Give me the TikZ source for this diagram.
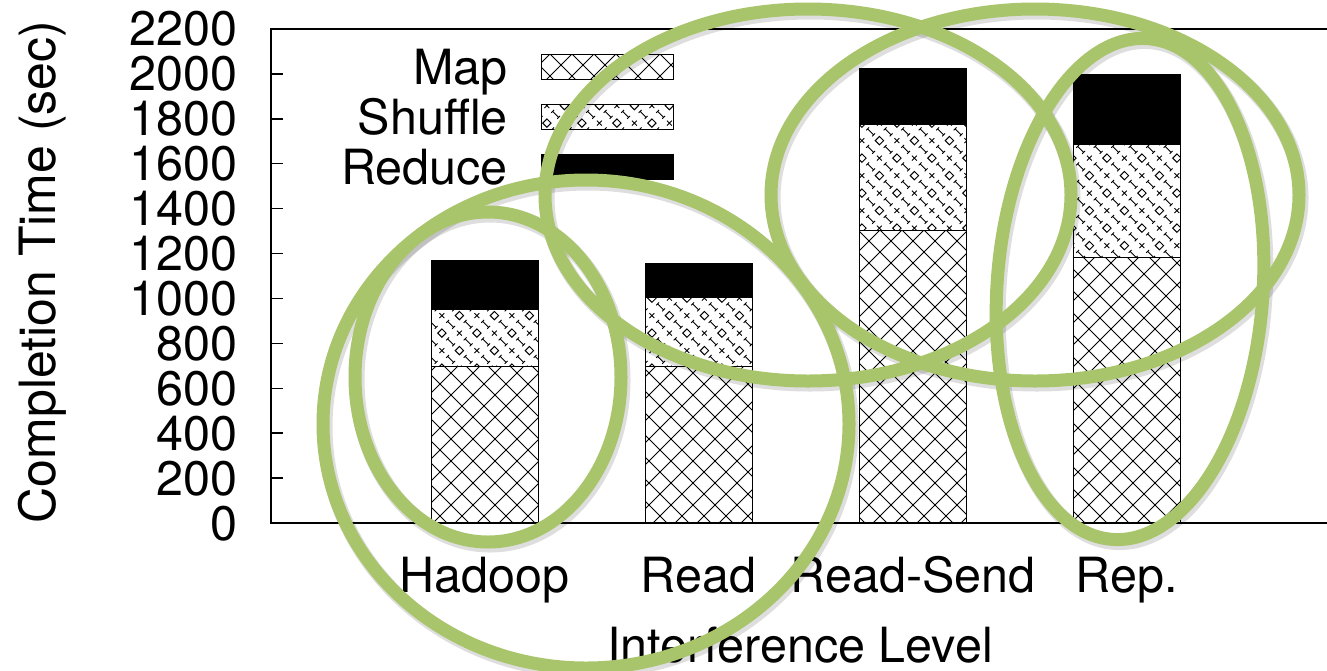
\documentclass[tikz,border=0pt]{standalone}
\usepackage{fontspec}
\setmainfont{TeX Gyre Heros}
\usetikzlibrary{patterns}

% --- fill patterns for the stacked bars ---------------------------------
\pgfdeclarepatternformonly{mapcross}{\pgfpoint{-1pt}{-1pt}}{\pgfpoint{23pt}{23pt}}{\pgfpoint{22pt}{22pt}}{%
  \pgfsetlinewidth{0.9pt}%
  \pgfpathmoveto{\pgfpoint{0pt}{0pt}}\pgfpathlineto{\pgfpoint{22pt}{22pt}}%
  \pgfpathmoveto{\pgfpoint{0pt}{22pt}}\pgfpathlineto{\pgfpoint{22pt}{0pt}}%
  \pgfusepath{stroke}}

\newcommand\shufDiamond[2]{%
  \pgfpathmoveto{\pgfpointadd{\pgfpoint{#1}{#2}}{\pgfpoint{-4.2pt}{0pt}}}%
  \pgfpathlineto{\pgfpointadd{\pgfpoint{#1}{#2}}{\pgfpoint{0pt}{4.2pt}}}%
  \pgfpathlineto{\pgfpointadd{\pgfpoint{#1}{#2}}{\pgfpoint{4.2pt}{0pt}}}%
  \pgfpathlineto{\pgfpointadd{\pgfpoint{#1}{#2}}{\pgfpoint{0pt}{-4.2pt}}}%
  \pgfpathclose}
\newcommand\shufCross[2]{%
  \pgfpathmoveto{\pgfpointadd{\pgfpoint{#1}{#2}}{\pgfpoint{-2.4pt}{-2.4pt}}}%
  \pgfpathlineto{\pgfpointadd{\pgfpoint{#1}{#2}}{\pgfpoint{2.4pt}{2.4pt}}}%
  \pgfpathmoveto{\pgfpointadd{\pgfpoint{#1}{#2}}{\pgfpoint{-2.4pt}{2.4pt}}}%
  \pgfpathlineto{\pgfpointadd{\pgfpoint{#1}{#2}}{\pgfpoint{2.4pt}{-2.4pt}}}}
\newcommand\shufBeam[2]{%
  \pgfpathmoveto{\pgfpointadd{\pgfpoint{#1}{#2}}{\pgfpoint{-3pt}{3pt}}}%
  \pgfpathlineto{\pgfpointadd{\pgfpoint{#1}{#2}}{\pgfpoint{3pt}{-3pt}}}%
  \pgfpathmoveto{\pgfpointadd{\pgfpoint{#1}{#2}}{\pgfpoint{-4.4pt}{1.6pt}}}%
  \pgfpathlineto{\pgfpointadd{\pgfpoint{#1}{#2}}{\pgfpoint{-1.6pt}{4.4pt}}}%
  \pgfpathmoveto{\pgfpointadd{\pgfpoint{#1}{#2}}{\pgfpoint{1.6pt}{-4.4pt}}}%
  \pgfpathlineto{\pgfpointadd{\pgfpoint{#1}{#2}}{\pgfpoint{4.4pt}{-1.6pt}}}}

\pgfdeclarepatternformonly{shufmix}{\pgfpoint{-1pt}{-1pt}}{\pgfpoint{36pt}{36pt}}{\pgfpoint{35pt}{35pt}}{%
  \pgfsetlinewidth{1pt}%
  \shufDiamond{4.375pt}{4.375pt}\shufDiamond{21.875pt}{21.875pt}%
  \shufCross{21.875pt}{4.375pt}\shufCross{4.375pt}{21.875pt}%
  \shufBeam{13.125pt}{13.125pt}\shufBeam{30.625pt}{30.625pt}%
  \shufBeam{13.125pt}{30.625pt}\shufBeam{30.625pt}{13.125pt}%
  \pgfusepath{stroke}}

\definecolor{ringgreen}{RGB}{169,197,107}

\begin{document}
\begin{tikzpicture}[x=1pt,y=-1pt,
  label/.style={font=\fontsize{48.5}{50}\selectfont, inner sep=0pt},
  axisline/.style={line width=2pt, line cap=rect},
  tickline/.style={line width=1.5pt},
  mapseg/.style={pattern=mapcross, pattern color=black, draw=black, line width=1pt},
  shufseg/.style={pattern=shufmix, pattern color=black, draw=black, line width=1pt},
  redseg/.style={fill=black, draw=black, line width=1pt},
  ring/.style={draw=ringgreen, line width=13pt},
  ringshadow/.style={draw=black, opacity=0.13, line width=15pt}]

\fill[white] (0,0) rectangle (1327,670);
\useasboundingbox (0,0) rectangle (1327,670);

% --- stacked bars -------------------------------------------------------
% Hadoop
\filldraw[mapseg]  (431,366) rectangle (538,523);
\filldraw[shufseg] (431,309) rectangle (538,366);
\filldraw[redseg]  (431,260) rectangle (538,309);
% Read
\filldraw[mapseg]  (645,366) rectangle (752,523);
\filldraw[shufseg] (645,297) rectangle (752,366);
\filldraw[redseg]  (645,263) rectangle (752,297);
% Read-Send
\filldraw[mapseg]  (859,230) rectangle (966,523);
\filldraw[shufseg] (859,124) rectangle (966,230);
\filldraw[redseg]  (859,68)  rectangle (966,124);
% Rep.
\filldraw[mapseg]  (1073,257) rectangle (1180,523);
\filldraw[shufseg] (1073,144) rectangle (1180,257);
\filldraw[redseg]  (1073,74)  rectangle (1180,144);

% --- axes ---------------------------------------------------------------
\draw[axisline] (1330,29) -- (271,29) -- (271,523) -- (1330,523);
\foreach \v in {200,400,...,2000}{
  \pgfmathsetmacro\yy{523-\v*0.224545}
  \draw[tickline] (271,\yy) -- (283,\yy);
}
\foreach \v in {0,200,...,2200}{
  \pgfmathsetmacro\yy{523-\v*0.224545+17}
  \node[label, anchor=base east] (tick\v) at (238,\yy) {\v};
}
\node[label, font=\fontsize{50}{52}\selectfont, rotate=90, anchor=base] (ylab) at (55,272) {Completion Time (sec)};

% --- category labels ----------------------------------------------------
\node[label, anchor=base] (xhadoop) at (484.5,592) {Hadoop};
\node[label, anchor=base] (xread)   at (698.5,592) {Read};
\node[label, anchor=base] (xrs)     at (913,592)   {Read-Send};
\node[label, anchor=base] (xrep)    at (1126.5,592){Rep.};
\node[label, anchor=base] (xlab)    at (800,662)   {Interference Level};

% --- legend -------------------------------------------------------------
\node[label, anchor=base east] (lgmap) at (508,84)  {Map};
\node[label, anchor=base east] (lgshf) at (508,134) {Shuffle};
\node[label, anchor=base east] (lgred) at (508,184) {Reduce};
\filldraw[mapseg]  (541,54)  rectangle (673,79);
\filldraw[shufseg] (541,104) rectangle (673,129);
\filldraw[redseg]  (541,154) rectangle (673,179);

% --- highlight rings ----------------------------------------------------
\begin{scope}[shift={(2,3)}]
  \draw[ringshadow] (488,377) ellipse [x radius=133, y radius=165];
  \draw[ringshadow] (586,424) ellipse [x radius=263, y radius=244];
  \draw[ringshadow] (808,195) ellipse [x radius=263, y radius=186];
  \draw[ringshadow] (1035,195) ellipse [x radius=264, y radius=186];
  \draw[ringshadow, rotate around={-4:(1130,289)}] (1130,289) ellipse [x radius=133, y radius=251];
\end{scope}
\draw[ring] (488,377) ellipse [x radius=133, y radius=165];
\draw[ring] (586,424) ellipse [x radius=263, y radius=244];
\draw[ring] (808,195) ellipse [x radius=263, y radius=186];
\draw[ring] (1035,195) ellipse [x radius=264, y radius=186];
\draw[ring, rotate around={-4:(1130,289)}] (1130,289) ellipse [x radius=133, y radius=251];
\end{tikzpicture}
\end{document}
